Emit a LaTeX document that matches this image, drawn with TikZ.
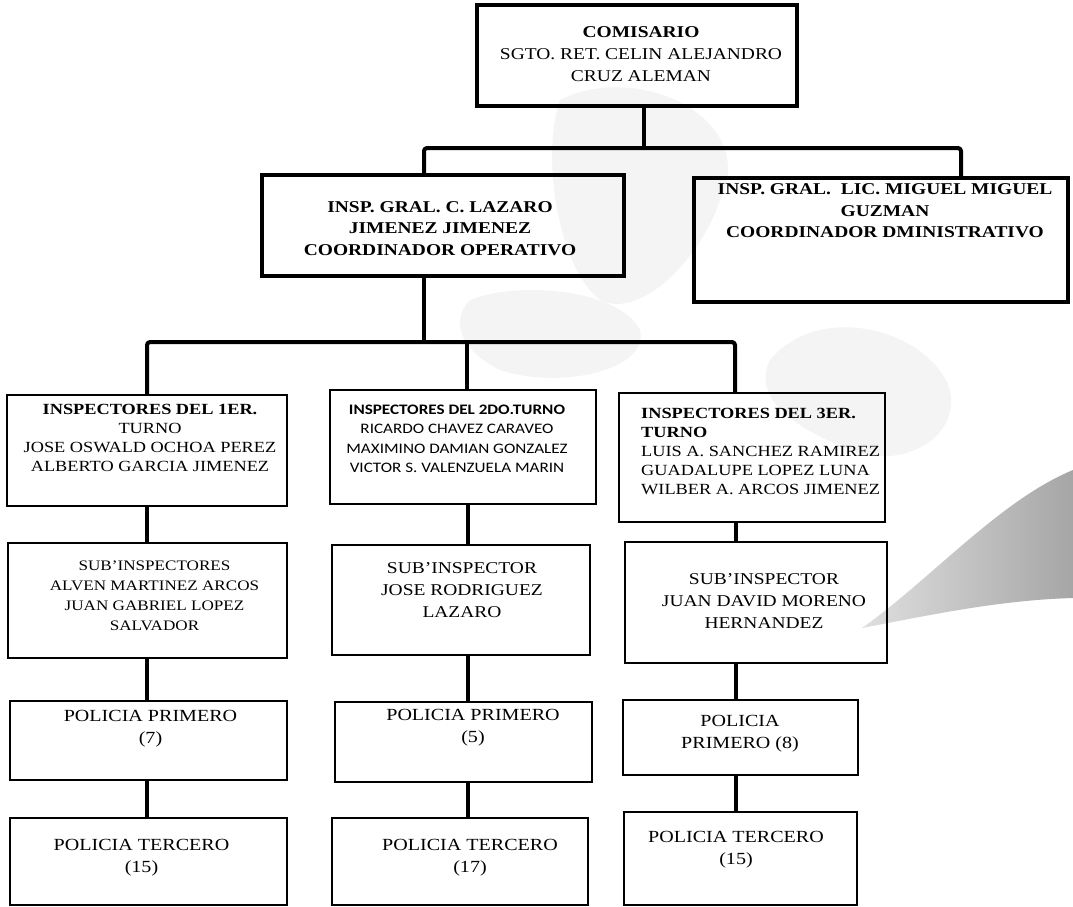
\documentclass[tikz,border=0pt]{standalone}
\usepackage{fontspec}
\setmainfont{Liberation Serif}[FakeStretch=1.18]
\newfontfamily\calib{Carlito}[FakeStretch=1.18]
\begin{document}
\begin{tikzpicture}[x=1pt,y=-1pt,
  box/.style={draw, line width=2pt, inner sep=0pt},
  heavybox/.style={draw, line width=3.3pt, inner sep=0pt},
  conn/.style={line width=4pt, line join=round},
  txt/.style={align=center, inner sep=0pt},
  fa/.style={font={\fontsize{16.5}{22}\selectfont}},
  fab/.style={font={\bfseries\fontsize{16.5}{21.5}\selectfont}},
  fc/.style={font={\fontsize{15.5}{19}\selectfont}},
  fd/.style={font={\fontsize{14.5}{20}\selectfont}},
  fe/.style={font={\fontsize{16.5}{22}\selectfont}},
  ff/.style={font={\fontsize{17}{22}\selectfont}},
  fg/.style={font={\calib\fontsize{14.5}{19.5}\selectfont}},
  speck/.style={fill=gray!9, draw=none}
]
\useasboundingbox (0,0) rectangle (1073,907);
\fill[white] (0,0) rectangle (1073,907);

% pale scan speckle and swoosh
\fill[speck] (560,100) .. controls (640,60) and (760,120) .. (720,200) .. controls (700,260) and (640,320) .. (600,300) .. controls (560,270) and (540,160) .. (560,100);
\fill[speck] (470,300) .. controls (520,280) and (620,290) .. (640,330) .. controls (650,370) and (560,390) .. (500,370) .. controls (460,350) and (450,320) .. (470,300);
\fill[speck] (770,360) .. controls (820,300) and (930,330) .. (950,390) .. controls (960,440) and (900,470) .. (850,450) .. controls (800,430) and (750,400) .. (770,360);
\shade[left color=gray!25, right color=gray!70] (862,628) .. controls (930,580) and (1000,500) .. (1073,470) -- (1073,598) .. controls (1000,600) and (930,615) .. (862,628) -- cycle;

% boxes
\node[heavybox, minimum width=320pt, minimum height=101pt] (top) at (637,55.5) {};
\node[heavybox, minimum width=362pt, minimum height=101pt] (l2a) at (443,225.5) {};
\node[heavybox, minimum width=374pt, minimum height=124pt] (l2b) at (881,240) {};
\node[box, minimum width=280pt, minimum height=111pt] (l3a) at (147,450.5) {};
\node[box, minimum width=266pt, minimum height=114pt] (l3b) at (463,447) {};
\node[box, minimum width=266pt, minimum height=129pt] (l3c) at (752,457.5) {};
\node[box, minimum width=279pt, minimum height=115pt] (l4a) at (147.5,600.5) {};
\node[box, minimum width=258pt, minimum height=110pt] (l4b) at (461,600) {};
\node[box, minimum width=262pt, minimum height=121pt] (l4c) at (756,602.5) {};
\node[box, minimum width=277pt, minimum height=79pt] (l5a) at (148.5,740.5) {};
\node[box, minimum width=257pt, minimum height=80pt] (l5b) at (463.5,742) {};
\node[box, minimum width=235pt, minimum height=75pt] (l5c) at (740.5,737.5) {};
\node[box, minimum width=277pt, minimum height=87pt] (l6a) at (148.5,861.5) {};
\node[box, minimum width=256pt, minimum height=87pt] (l6b) at (460,861.5) {};
\node[box, minimum width=233pt, minimum height=93pt] (l6c) at (740.5,858.5) {};

% texts
\node[txt, fa] (ttop) at (641,54) {\textbf{COMISARIO}\\SGTO. RET. CELIN ALEJANDRO\\CRUZ ALEMAN};
\node[txt, fab] (tl2a) at (440,228.5) {INSP. GRAL. C. LAZARO\\JIMENEZ JIMENEZ\\COORDINADOR OPERATIVO};
\node[txt, fab] (tl2b) at (885,211) {INSP. GRAL.\ \ LIC. MIGUEL MIGUEL\\GUZMAN\\COORDINADOR DMINISTRATIVO};
\node[txt, fc] (tl3a) at (150,438) {\textbf{INSPECTORES DEL 1ER.}\\TURNO\\JOSE OSWALD OCHOA PEREZ\\ALBERTO GARCIA JIMENEZ};
\node[txt, fg] (tl3b) at (457,439) {\textbf{INSPECTORES DEL 2DO.TURNO}\\RICARDO CHAVEZ CARAVEO\\MAXIMINO DAMIAN GONZALEZ\\VICTOR S. VALENZUELA MARIN};
\node[txt, fc, align=left, anchor=west] (tl3c) at (641,451.5) {\textbf{INSPECTORES DEL 3ER.}\\\textbf{TURNO}\\LUIS A. SANCHEZ RAMIREZ\\GUADALUPE LOPEZ LUNA\\WILBER A. ARCOS JIMENEZ};
\node[txt, fd] (tl4a) at (154.5,596) {SUB’INSPECTORES\\ALVEN MARTINEZ ARCOS\\JUAN GABRIEL LOPEZ\\SALVADOR};
\node[txt, fe] (tl4b) at (462,590) {SUB’INSPECTOR\\JOSE RODRIGUEZ\\LAZARO};
\node[txt, fe] (tl4c) at (764,601.5) {SUB’INSPECTOR\\JUAN DAVID MORENO\\HERNANDEZ};
\node[txt, ff] (tl5a) at (150.5,728.5) {POLICIA PRIMERO\\(7)};
\node[txt, ff] (tl5b) at (473,727.5) {POLICIA PRIMERO\\(5)};
\node[txt, ff] (tl5c) at (740,734) {POLICIA\\PRIMERO (8)};
\node[txt, ff] (tl6a) at (141.5,858) {POLICIA TERCERO\\(15)};
\node[txt, ff] (tl6b) at (470,857.5) {POLICIA TERCERO\\(17)};
\node[txt, ff] (tl6c) at (736,850) {POLICIA TERCERO\\(15)};

% connector junctions
\coordinate (j1) at (644,148);
\coordinate (b1L) at (424,148);
\coordinate (b1R) at (961,148);
\coordinate (j2) at (424,342);
\coordinate (b2a) at (147,342);
\coordinate (b2b) at (467,342);
\coordinate (b2c) at (735,342);
\coordinate (c1) at (147,0);
\coordinate (c2) at (468,0);
\coordinate (c3) at (736,0);

\draw[conn] (top.south -| j1) -- (j1);
\draw[conn, rounded corners=3pt] (l2a.north -| b1L) -- (b1L) -- (b1R) -- (l2b.north -| b1R);
\draw[conn] (l2a.south -| j2) -- (j2);
\draw[conn, rounded corners=3pt] (l3a.north -| b2a) -- (b2a) -- (b2c) -- (l3c.north -| b2c);
\draw[conn] (b2b) -- (l3b.north -| b2b);

\draw[conn] (l3a.south -| c1) -- (l4a.north -| c1);
\draw[conn] (l4a.south -| c1) -- (l5a.north -| c1);
\draw[conn] (l5a.south -| c1) -- (l6a.north -| c1);
\draw[conn] (l3b.south -| c2) -- (l4b.north -| c2);
\draw[conn] (l4b.south -| c2) -- (l5b.north -| c2);
\draw[conn] (l5b.south -| c2) -- (l6b.north -| c2);
\draw[conn] (l3c.south -| c3) -- (l4c.north -| c3);
\draw[conn] (l4c.south -| c3) -- (l5c.north -| c3);
\draw[conn] (l5c.south -| c3) -- (l6c.north -| c3);
\end{tikzpicture}
\end{document}
